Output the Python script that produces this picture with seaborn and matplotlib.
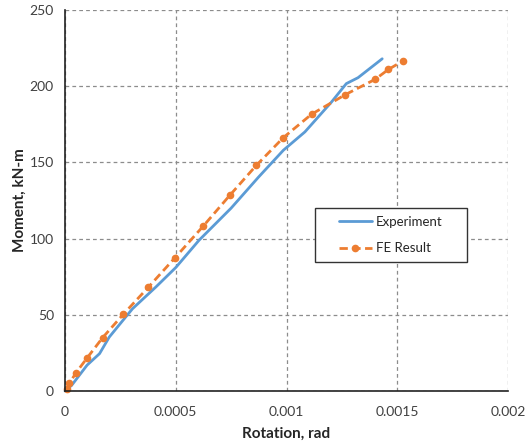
import numpy as np
import pandas as pd
import matplotlib
matplotlib.use("Agg")
import matplotlib.pyplot as plt
from matplotlib.patches import Rectangle
import seaborn as sns

# Experiment curve (rotation rad, moment kN-m)
exp_rot = [0, 0.00003, 0.0001, 0.000156, 0.0002, 0.000263, 0.000305, 0.00041, 0.0005,
           0.000605, 0.00075, 0.000874, 0.000986, 0.001083, 0.001203, 0.00127, 0.001323, 0.001432]
exp_mom = [0, 3.7, 17, 24.5, 35.4, 46.6, 54, 68.2, 81,
           98.9, 120, 140.4, 158, 170, 189.6, 201.7, 205.6, 218]

# FE result points
fe_rot = [0.0000075, 0.00002, 0.00005, 0.0001, 0.00017, 0.000263, 0.000377, 0.000497, 0.000623,
          0.000744, 0.000864, 0.000986, 0.001113, 0.001266, 0.0014, 0.00146, 0.001528]
fe_mom = [1, 5, 12, 21.7, 35, 50.3, 68.2, 87.5, 108,
          128.4, 148.1, 166.3, 181.6, 194.5, 204.5, 211, 216.8]

x_ticks = [0, 0.0005, 0.001, 0.0015, 0.002]
x_ticklabels = ["0", "0.0005", "0.001", "0.0015", "0.002"]
y_ticks = [0, 50, 100, 150, 200, 250]

sns.set_style("white")
plt.rcParams["font.family"] = ["Lato", "DejaVu Sans"]

fig = plt.figure(figsize=(5.27, 4.43), dpi=100)
ax = fig.add_axes([0.1233, 0.1174, 0.8407, 0.86])

exp_df = pd.DataFrame({"rot": exp_rot, "mom": exp_mom})
fe_df = pd.DataFrame({"rot": fe_rot, "mom": fe_mom})

sns.lineplot(data=exp_df, x="rot", y="mom", sort=False, ax=ax, color="#5B9BD5",
             linewidth=2.0, label="Experiment", clip_on=False)
sns.lineplot(data=fe_df, x="rot", y="mom", sort=False, ax=ax, color="#ED7D31",
             linewidth=2.0, linestyle=(0, (3, 1.6)), marker="o", markersize=5.5,
             markeredgewidth=0, label="FE Result", clip_on=False)

ax.set_xlim(0, 0.002)
ax.set_ylim(0, 250)
ax.set_xticks(x_ticks)
ax.set_xticklabels(x_ticklabels)
ax.set_yticks(y_ticks)
ax.tick_params(axis="both", labelsize=10, length=0, colors="#404040", pad=11)
ax.tick_params(axis="y", pad=8)
ax.grid(True, color="#8c8c8c", linestyle=(0, (3, 2.5)), linewidth=0.9)
ax.set_axisbelow(True)

for side in ["top", "right"]:
    ax.spines[side].set_visible(False)
for side in ["left", "bottom"]:
    ax.spines[side].set_color("#222222")
    ax.spines[side].set_linewidth(1.2)

ax.set_xlabel("Rotation, rad", fontsize=11, fontweight="bold", labelpad=6)
ax.set_ylabel("Moment, kN-m", fontsize=11, fontweight="bold", labelpad=2)

# legend box drawn separately so the entries sit centred inside it
box = Rectangle((0.564, 0.339), 0.343, 0.141, transform=ax.transAxes, facecolor="white",
                edgecolor="#333333", linewidth=1.0, zorder=4)
ax.add_patch(box)
leg = ax.legend(bbox_to_anchor=(0.7355, 0.4095), loc="center", fontsize=9.5, frameon=False,
                handlelength=2.5, handletextpad=0.3, labelspacing=1.1, borderpad=0)
leg.set_zorder(5)

fig.savefig("out.png", dpi=100)
